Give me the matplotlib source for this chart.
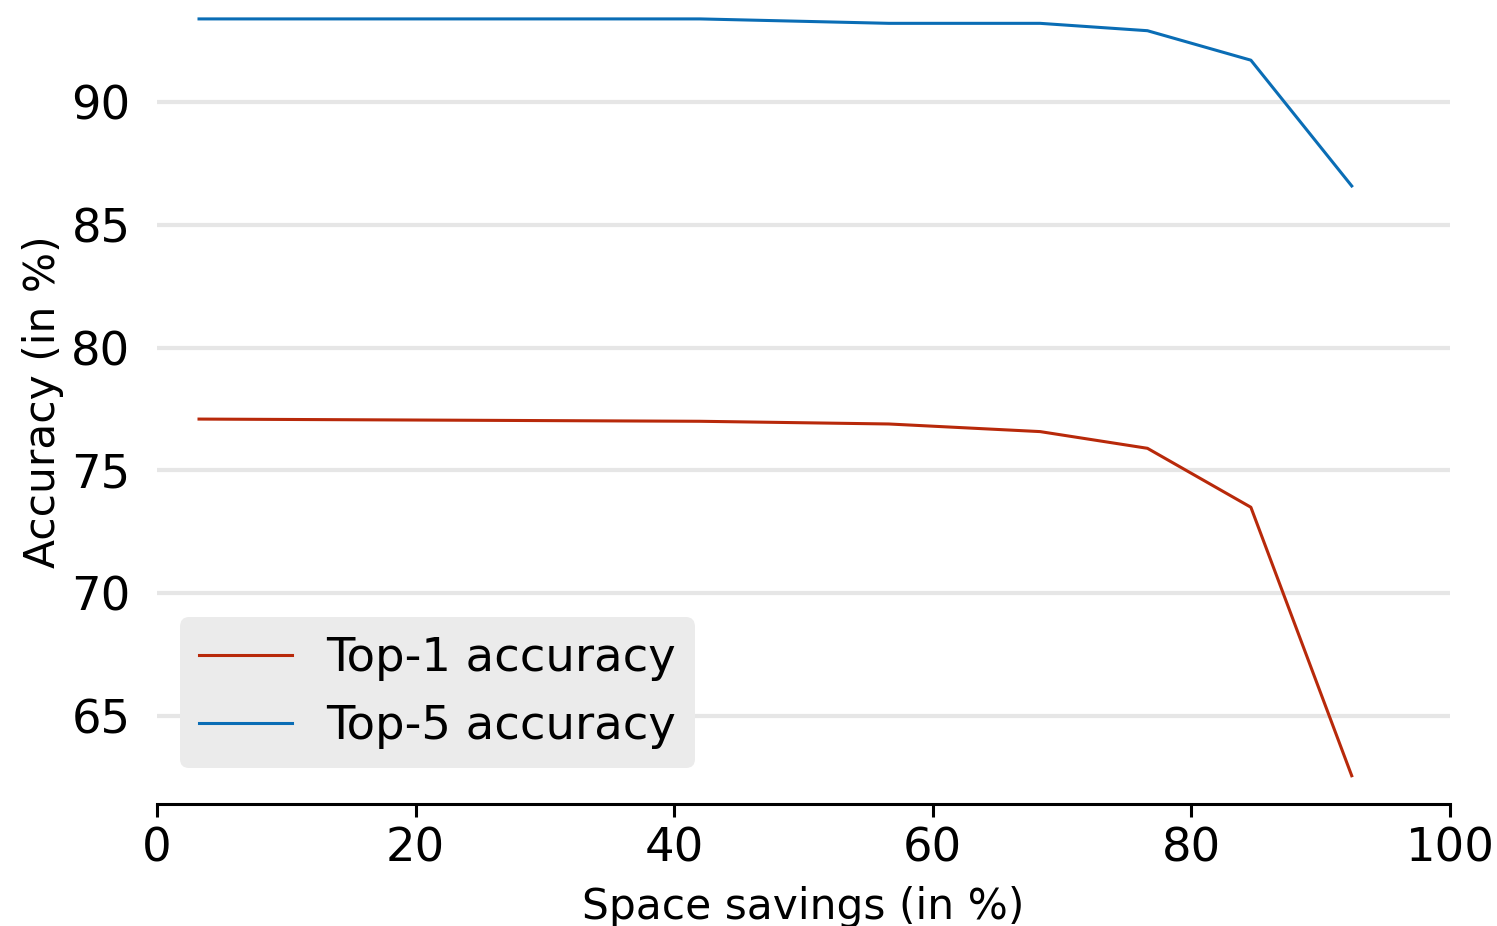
import matplotlib
matplotlib.use("Agg")
import matplotlib.pyplot as plt

space_savings = [3.25, 42.0, 56.6, 68.3, 76.6, 84.6, 92.4]
top1_acc = [77.09, 77.00, 76.89, 76.58, 75.90, 73.50, 62.57]
top5_acc = [93.38, 93.38, 93.20, 93.20, 92.90, 91.70, 86.58]
xticks = [0, 20, 40, 60, 80, 100]
yticks = [65, 70, 75, 80, 85, 90]

W, H, DPI = 1497, 926, 100
fig = plt.figure(figsize=(W / DPI, H / DPI), dpi=DPI)
left, right, top, bottom = 157, 1450, 0, 804
ax = fig.add_axes([left / W, (H - bottom) / H, (right - left) / W, (bottom - top) / H])

ax.plot(space_savings, top1_acc, color="#b8290a", lw=2.2, label="Top-1 accuracy")
ax.plot(space_savings, top5_acc, color="#0a6db5", lw=2.2, label="Top-5 accuracy")

ax.set_xlim(0, 100)
ax.set_ylim(61.42, 94.15)
ax.set_xticks(xticks)
ax.set_yticks(yticks)
ax.grid(axis="y", color="#e6e6e6", lw=3)
ax.set_axisbelow(True)
for s in ["left", "right", "top"]:
    ax.spines[s].set_visible(False)
ax.spines["bottom"].set_linewidth(2.2)
ax.tick_params(axis="x", length=9, width=2.2, labelsize=33.5, pad=7)
ax.tick_params(axis="y", length=0, labelsize=33.5, pad=19)

ax.set_xlabel("Space savings (in %)", fontsize=30.5, labelpad=11)
ax.set_ylabel("Accuracy (in %)", fontsize=30.5, labelpad=5)

leg = ax.legend(loc="lower left", bbox_to_anchor=(0.0178, 0.0448), borderaxespad=0,
                fontsize=33.5, facecolor="#ebebeb", edgecolor="none", framealpha=1,
                fancybox=True, labelspacing=0.5, handlelength=2.0, handletextpad=0.75,
                borderpad=0.4)

fig.savefig("out.png", dpi=DPI)
